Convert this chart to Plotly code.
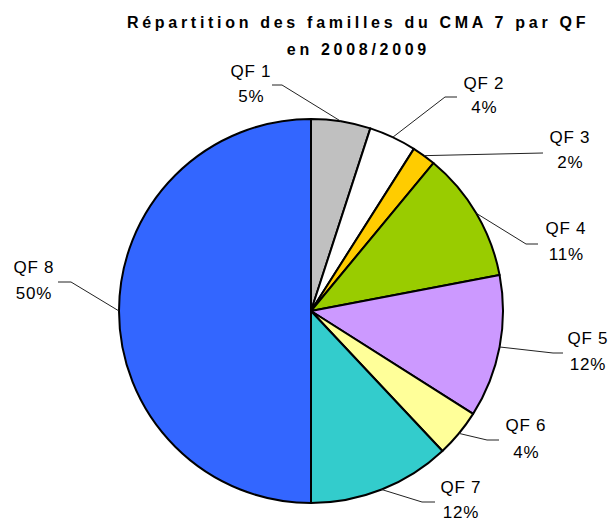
import math
import plotly.graph_objects as go

# ---- data ----
categories = ["QF 1", "QF 2", "QF 3", "QF 4", "QF 5", "QF 6", "QF 7", "QF 8"]
shares = [5, 4, 2, 11, 12, 4, 12, 50]
pct_labels = ["5%", "4%", "2%", "11%", "12%", "4%", "12%", "50%"]
colors = ["#C0C0C0", "#FFFFFF", "#FFCC00", "#99CC00", "#CC99FF", "#FFFF99", "#33CCCC", "#3366FF"]
title_lines = ["Répartition des familles du CMA 7 par QF", "en 2008/2009"]

# ---- layout (pixels) ----
W, H = 613, 522
CX, CY, R = 311, 311, 192
# label placement (text centre x, name y, pct y, elbow x, elbow y, end x)
label_layout = [
    (251, 71, 96, 282, 85, 272),
    (484, 83, 108, 445, 97, 457),
    (570, 137, 163, 543, 153, 543),
    (566, 228, 254, 526, 244, 538),
    (588, 338, 364, 553, 353, 563),
    (526, 425, 452, 487, 440, 499),
    (461, 487, 512, 422, 502, 435),
    (34, 267, 293, 71, 282, 58),
]

def px(x):
    return x / W

def py(y):
    return (H - y) / H

fig = go.Figure()
fig.add_trace(go.Pie(
    labels=categories, values=shares, sort=False, direction="clockwise", rotation=0,
    marker=dict(colors=colors, line=dict(color="black", width=2)),
    textinfo="none", hoverinfo="label+percent", showlegend=False,
    domain=dict(x=[px(CX - R), px(CX + R)], y=[py(CY + R), py(CY - R)]),
))

shapes = []
annotations = []
total = sum(shares)
cum = 0
for i, v in enumerate(shares):
    mid = (cum + v / 2) / total * 2 * math.pi
    cum += v
    sx = CX + R * math.sin(mid)
    sy = CY - R * math.cos(mid)
    tx, ny, pyy, ex, ey, hx = label_layout[i]
    shapes.append(dict(type="line", xref="paper", yref="paper", x0=px(sx), y0=py(sy),
                       x1=px(ex), y1=py(ey), line=dict(color="#222222", width=1)))
    if hx != ex:
        shapes.append(dict(type="line", xref="paper", yref="paper", x0=px(ex), y0=py(ey),
                           x1=px(hx), y1=py(ey), line=dict(color="#222222", width=1)))
    for txt, yy in ((categories[i], ny), (pct_labels[i], pyy)):
        annotations.append(dict(text=txt, x=px(tx), y=py(yy), xref="paper", yref="paper",
                                xanchor="center", yanchor="middle", showarrow=False,
                                font=dict(family="Liberation Sans, Arial", size=17, color="black")))

for txt, yy in zip(title_lines, (22, 49)):
    annotations.append(dict(text="<b>" + txt + "</b>", x=px(358), y=py(yy), xref="paper", yref="paper",
                            xanchor="center", yanchor="middle", showarrow=False,
                            font=dict(family="Liberation Sans, Arial", size=16, color="black")))

fig.update_layout(
    width=W, height=H, margin=dict(l=0, r=0, t=0, b=0),
    paper_bgcolor="white", plot_bgcolor="white",
    shapes=shapes, annotations=annotations,
)

n_label_ann = 2 * len(categories)
post = """
document.body.style.margin = '0';
document.body.style.overflow = 'hidden';
var gd = document.getElementById('{plot_id}');
gd.querySelectorAll('g.annotation').forEach(function(g) {
  var idx = parseInt(g.getAttribute('data-index'));
  var t = g.querySelector('text.annotation-text');
  if (!t) return;
  t.style.letterSpacing = (idx >= %d) ? '3.7px' : '0.8px';
});
""" % n_label_ann
fig.write_html("out.html", post_script=post, config={"displayModeBar": False})
